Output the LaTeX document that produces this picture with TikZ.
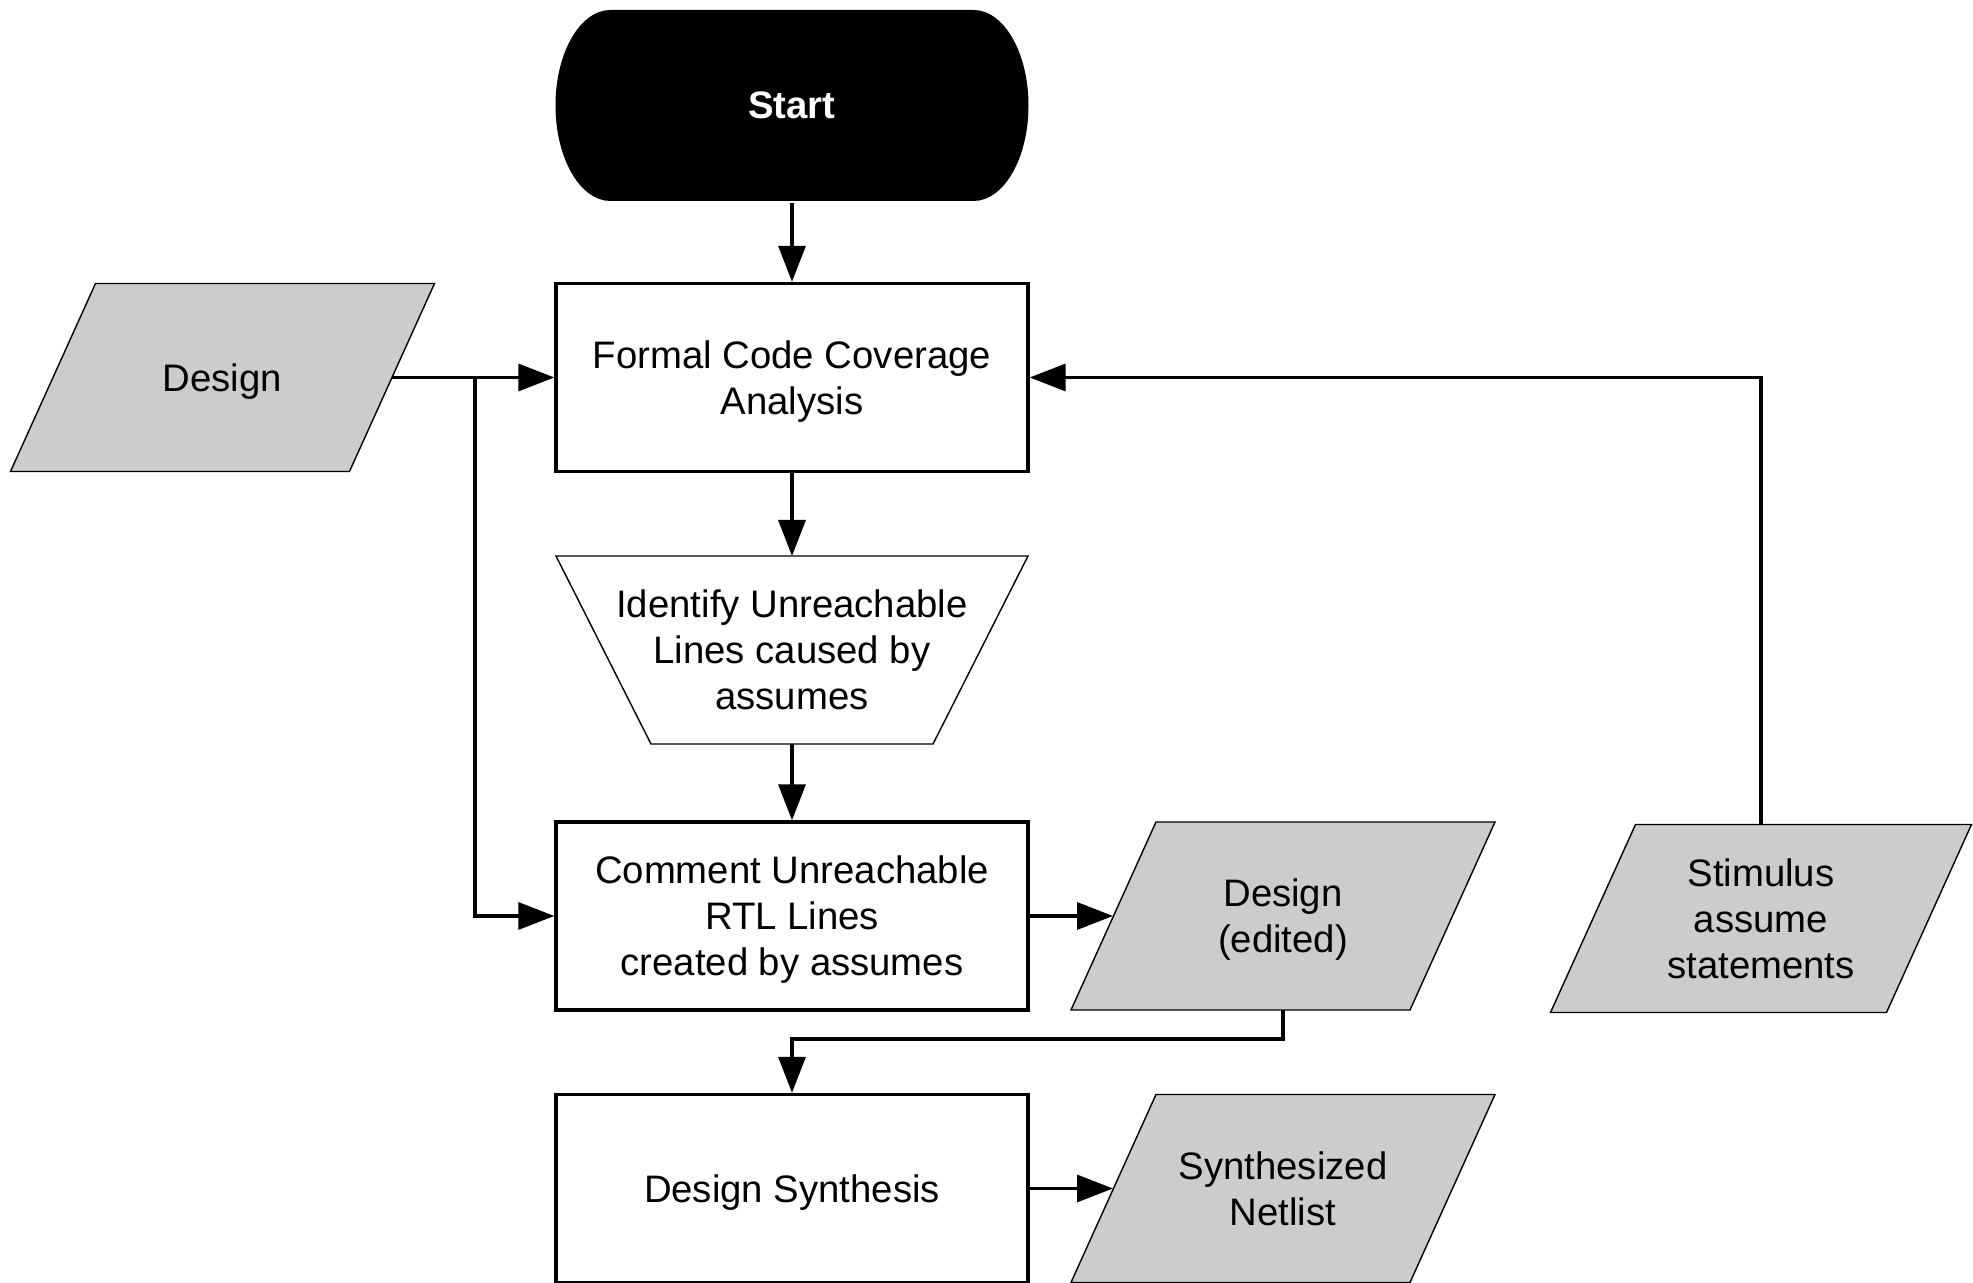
\documentclass[tikz,border=0pt]{standalone}
\usepackage{fontspec}
\setmainfont{Liberation Sans}
\usetikzlibrary{arrows.meta,backgrounds}

\newcommand{\flowfont}{\fontsize{10.9}{13.1}\selectfont}

\begin{document}
\begin{tikzpicture}[
            line width=0.95pt,
            >={Triangle[length=3.6mm, width=2.7mm]},
            box/.style={draw, fill=white, minimum width=4.72cm, minimum height=1.88cm, text depth=-1.2pt, align=center, font=\flowfont},
            io/.style={minimum width=4.24cm, minimum height=1.88cm, inner sep=0pt, outer sep=0pt, text depth=-1.2pt, align=center, font=\flowfont},
            funnel/.style={minimum width=4.72cm, minimum height=1.88cm, inner sep=0pt, outer sep=0pt, text depth=0pt, align=center, font=\flowfont},
            startbox/.style={minimum width=4.73cm, minimum height=1.91cm, text depth=-1.2pt, text=white, font=\flowfont\bfseries, path picture={
                \fill ([xshift=5.5mm]path picture bounding box.north west) -- ([xshift=-5.5mm]path picture bounding box.north east)
                    arc[start angle=90, end angle=-90, x radius=5.5mm, y radius=9.55mm]
                    -- ([xshift=5.5mm]path picture bounding box.south west)
                    arc[start angle=270, end angle=90, x radius=5.5mm, y radius=9.55mm] -- cycle;}},
        ]
            \useasboundingbox (0, 0) rectangle (19.73, -12.83);
            \node[startbox] (start) at (7.92, -1.055) {Start};
            \node[box] (fcca) at (7.92, -3.775) {Formal Code Coverage\\Analysis};
            \node[io] (design) at (2.225, -3.775) {Design};
            \node[funnel] (ident) at (7.92, -6.50) {Identify Unreachable\\Lines caused by\\assumes};
            \node[box] (comment) at (7.92, -9.16) {Comment Unreachable\\RTL Lines\\created by assumes};
            \node[io] (dsgnedit) at (12.83, -9.16) {Design\\(edited)};
            \node[io, minimum width=4.21cm] (stim) at (17.61, -9.185) {Stimulus\\assume\\statements};
            \node[box] (synth) at (7.92, -11.885) {Design Synthesis};
            \node[io] (netlist) at (12.83, -11.885) {Synthesized\\Netlist};
            \begin{scope}[on background layer]
                \foreach \n in {design, dsgnedit, stim, netlist}
                    \filldraw[fill=black!20] ([xshift=8.5mm]\n.north west) -- (\n.north east) -- ([xshift=-8.5mm]\n.south east) -- (\n.south west) -- cycle;
                \draw (ident.north west) -- (ident.north east) -- ([xshift=-9.5mm]ident.south east) -- ([xshift=9.5mm]ident.south west) -- cycle;
            \end{scope}
            \coordinate (split) at (4.75, -3.775);
            \path[->] (start) edge (fcca);
            \path[->] ([xshift=-4.25mm]design.east) edge (fcca);
            \draw[->] (split) |- (comment.west);
            \path[->] (fcca) edge (ident);
            \path[->] (ident) edge (comment);
            \path[->] (comment) edge ([xshift=4.2mm]dsgnedit.west);
            \draw[->] (dsgnedit.south) -- ++(0, -0.29) -| (synth.north);
            \path[->] (synth) edge ([xshift=4.2mm]netlist.west);
            \draw[->] (stim.north) |- (fcca.east);
        \end{tikzpicture}
\end{document}
